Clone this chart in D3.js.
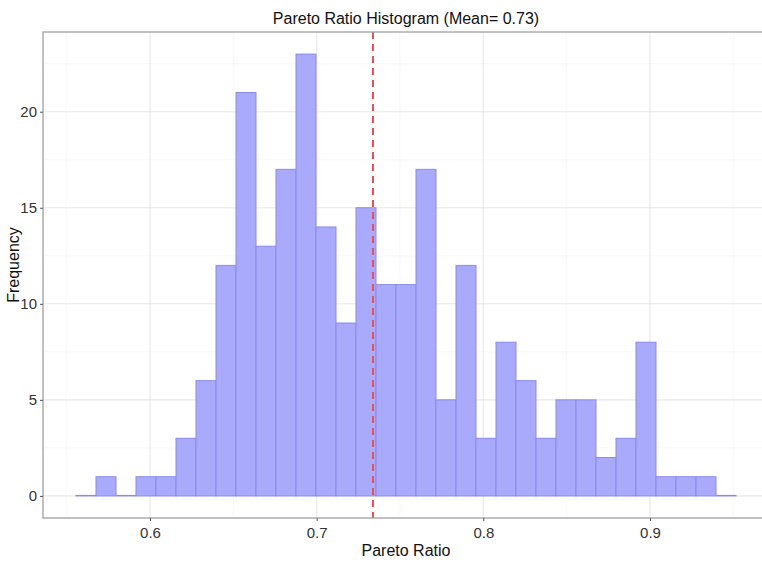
<!DOCTYPE html>
<html>
<head>
<meta charset="utf-8">
<script src="https://cdn.jsdelivr.net/npm/d3@7"></script>
<style>
  body { margin: 0; background: #fff; }
  text { font-family: "Liberation Sans", Arial, sans-serif; }
</style>
</head>
<body>
<svg id="chart" width="762" height="563"></svg>
<script>
// histogram bins (start of each bin), bin width 0.012
var binStart = 0.5556;
var binWidth = 0.012;
var counts = [0, 1, 0, 1, 1, 3, 6, 12, 21, 13, 17, 23, 14, 9, 15, 11, 11, 17, 5, 12, 3, 8, 6, 3, 5, 5, 2, 3, 8, 1, 1, 1, 0];
var meanValue = 0.7338;
var xTicks = [0.6, 0.7, 0.8, 0.9];
var xMinor = [0.55, 0.65, 0.75, 0.85, 0.95];
var yTicks = [0, 5, 10, 15, 20];
var yMinor = [2.5, 7.5, 12.5, 17.5, 22.5];

var bins = counts.map(function(c, i) {
  return { x0: binStart + i * binWidth, x1: binStart + (i + 1) * binWidth, n: c };
});

var svg = d3.select('#chart');
var pLeft = 43, pTop = 32, pRight = 769, pBottom = 518;

var x = d3.scaleLinear().domain([0.5358, 0.9714]).range([pLeft, pRight]);
var y = d3.scaleLinear().domain([-1.15, 24.15]).range([pBottom, pTop]);

// grid
var grid = svg.append('g');
grid.selectAll('.ymin').data(yMinor).enter().append('line')
  .attr('x1', pLeft).attr('x2', pRight)
  .attr('y1', function(d) { return y(d); }).attr('y2', function(d) { return y(d); })
  .attr('stroke', '#f3f3f3').attr('stroke-width', 0.6);
grid.selectAll('.xmin').data(xMinor).enter().append('line')
  .attr('y1', pTop).attr('y2', pBottom)
  .attr('x1', function(d) { return x(d); }).attr('x2', function(d) { return x(d); })
  .attr('stroke', '#f3f3f3').attr('stroke-width', 0.6);
grid.selectAll('.ymaj').data(yTicks).enter().append('line')
  .attr('x1', pLeft).attr('x2', pRight)
  .attr('y1', function(d) { return y(d); }).attr('y2', function(d) { return y(d); })
  .attr('stroke', '#e8e8e8').attr('stroke-width', 1.1);
grid.selectAll('.xmaj').data(xTicks).enter().append('line')
  .attr('y1', pTop).attr('y2', pBottom)
  .attr('x1', function(d) { return x(d); }).attr('x2', function(d) { return x(d); })
  .attr('stroke', '#e8e8e8').attr('stroke-width', 1.1);

// bars (empty bins still show their outline at zero)
svg.append('g').selectAll('rect').data(bins).enter().append('rect')
  .attr('x', function(d) { return x(d.x0); })
  .attr('width', function(d) { return x(d.x1) - x(d.x0); })
  .attr('y', function(d) { return Math.min(y(d.n), y(0) - 0.5); })
  .attr('height', function(d) { return Math.max(y(0) - y(d.n), 0.5); })
  .attr('fill', '#aaaafc')
  .attr('stroke', '#8a8aee')
  .attr('stroke-width', 1);

// mean line
svg.append('line')
  .attr('x1', x(meanValue)).attr('x2', x(meanValue))
  .attr('y1', pTop).attr('y2', pBottom)
  .attr('stroke', '#e8505a').attr('stroke-width', 2)
  .attr('stroke-dasharray', '7,5');

// panel border
svg.append('rect')
  .attr('x', pLeft).attr('y', pTop)
  .attr('width', pRight - pLeft).attr('height', pBottom - pTop)
  .attr('fill', 'none').attr('stroke', '#a0a0a0').attr('stroke-width', 1.3);

// axes
var xAxis = svg.append('g').attr('transform', 'translate(0,' + pBottom + ')')
  .call(d3.axisBottom(x).tickValues(xTicks).tickSize(3).tickPadding(6).tickFormat(d3.format('.1f')));
var yAxis = svg.append('g').attr('transform', 'translate(' + pLeft + ',0)')
  .call(d3.axisLeft(y).tickValues(yTicks).tickSize(3).tickPadding(3));
[xAxis, yAxis].forEach(function(a) {
  a.select('.domain').remove();
  a.selectAll('.tick line').attr('stroke', '#555');
  a.selectAll('.tick text').attr('fill', '#333').style('font-size', '15px');
});

// titles
svg.append('text').attr('x', (pLeft + pRight) / 2).attr('y', 24)
  .attr('text-anchor', 'middle').style('font-size', '16px').attr('fill', '#111')
  .text('Pareto Ratio Histogram (Mean= 0.73)');
svg.append('text').attr('x', (pLeft + pRight) / 2).attr('y', 556)
  .attr('text-anchor', 'middle').style('font-size', '16px').attr('fill', '#111')
  .text('Pareto Ratio');
svg.append('text').attr('transform', 'translate(19,265) rotate(-90)')
  .attr('text-anchor', 'middle').style('font-size', '16px').attr('fill', '#111')
  .text('Frequency');
</script>
</body>
</html>
